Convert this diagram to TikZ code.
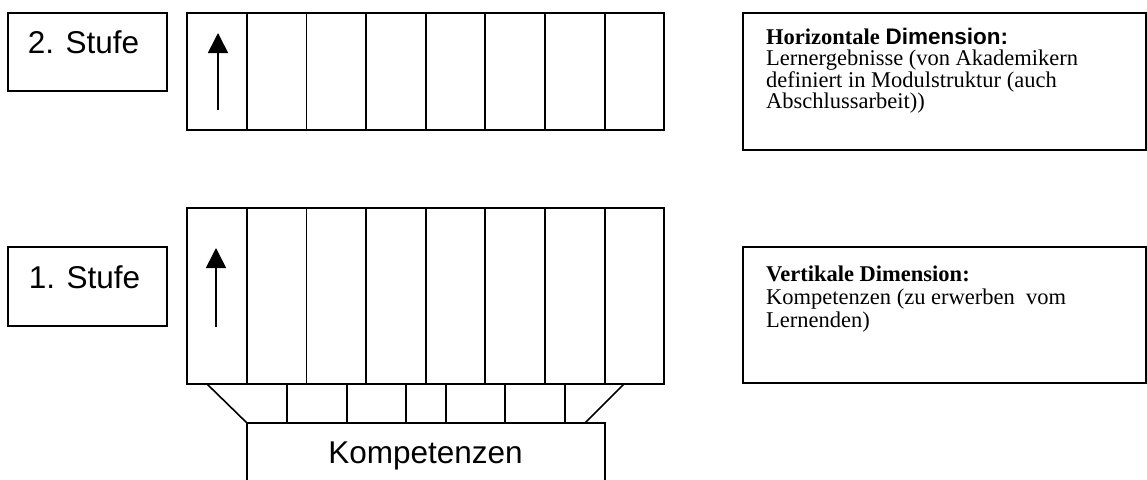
\documentclass[tikz,border=0pt]{standalone}
\usepackage{fontspec}
\setmainfont{Liberation Serif}
\newfontfamily\arialfont{Liberation Sans}
\usetikzlibrary{arrows.meta}
\begin{document}
\begin{tikzpicture}[x=1pt,y=-1pt,
  box/.style={draw, line width=1.8pt},
  thin/.style={draw, line width=1.6pt},
  arr/.style={line width=1.6pt, -{Triangle[width=20pt,length=20pt]}},
  sanslabel/.style={inner sep=0pt, anchor=base, font=\arialfont\fontsize{31.5}{34}\selectfont},
  serifline/.style={inner sep=0pt, anchor=base west, font=\fontsize{22.5}{24}\selectfont}]
\useasboundingbox (0,0) rectangle (1147,479);

% level 2
\draw[box] (8,13) rectangle (167,91);
\node[sanslabel] (s2) at (83.5,53) {2. Stufe};
\draw[box] (187,13) rectangle (664,130);
\foreach \x in {247,306.5,366,426,485,545,605} \draw[thin] (\x,13) -- (\x,130);
\coordinate (a2s) at (218,110);
\coordinate (a2e) at (218,33);
\draw[arr] (a2s) -- (a2e);

% level 1
\draw[box] (8,247) rectangle (167,326);
\node[sanslabel] (s1) at (84.5,288) {1. Stufe};
\draw[box] (187,208) rectangle (664,384);
\foreach \x in {247,306.5,366,426,485,545,605} \draw[thin] (\x,208) -- (\x,384);
\coordinate (a1s) at (216,327);
\coordinate (a1e) at (216,248);
\draw[arr] (a1s) -- (a1e);

% funnel
\draw[thin] (207,384) -- (247,423);
\draw[thin] (624,384) -- (585,423);
\foreach \x in {287,347,406,446,505,565} \draw[thin] (\x,384) -- (\x,423);
\draw[box] (247,481) -- (247,423) -- (605,423) -- (605,481);
\node[sanslabel] (komp) at (425.5,463) {Kompetenzen};

% text boxes
\draw[box] (743,13) rectangle (1146,150);
\node[serifline] (h1) at (766,44) {\textbf{Horizontale {\arialfont Dimension:}}};
\node[serifline] (h2) at (766,65.5) {Lernergebnisse (von Akademikern};
\node[serifline] (h3) at (766,87) {definiert in Modulstruktur (auch};
\node[serifline] (h4) at (766,108.5) {Abschlussarbeit))};

\draw[box] (743,247) rectangle (1146,383);
\node[serifline] (v1) at (766,281) {\textbf{Vertikale Dimension:}};
\node[serifline] (v2) at (766,304) {Kompetenzen (zu erwerben\ \ vom};
\node[serifline] (v3) at (766,327) {Lernenden)};
\end{tikzpicture}
\end{document}
